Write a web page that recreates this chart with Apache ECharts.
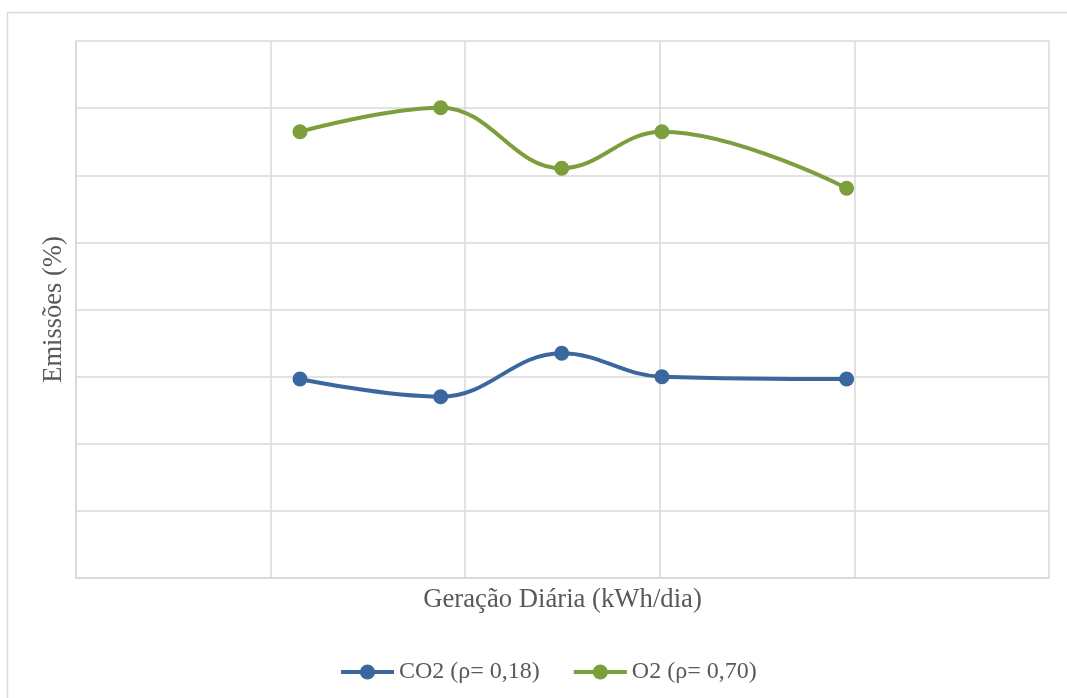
<!DOCTYPE html>
<html>
<head>
<meta charset="utf-8">
<script src="https://cdn.jsdelivr.net/npm/echarts@6/dist/echarts.min.js"></script>
<style>
html,body{margin:0;padding:0;background:#fff;}
#chart{width:1067px;height:698px;}
</style>
</head>
<body>
<div id="chart"></div>
<script>
// Data (axes have no tick labels; arbitrary units)
const xCO2 = [1.151, 1.874, 2.496, 3.011, 3.960];
const yCO2 = [2.965, 2.701, 3.348, 2.999, 2.965];
const xO2 = [1.151, 1.874, 2.496, 3.011, 3.960];
const yO2 = [6.649, 7.006, 6.104, 6.649, 5.806];
const seriesNames = ['CO2 (ρ= 0,18)', 'O2 (ρ= 0,70)'];
const xTitle = 'Geração Diária (kWh/dia)';
const yTitle = 'Emissões (%)';

const FONT = "'Liberation Serif', 'Times New Roman', serif";
const GRID = '#D9D9D9';
const TXT = '#595959';

function pairs(xs, ys) { return xs.map((x, i) => [x, ys[i]]); }

const chart = echarts.init(document.getElementById('chart'), null, {renderer: 'canvas'});
chart.setOption({
  animation: false,
  backgroundColor: '#fff',
  textStyle: {fontFamily: FONT},
  graphic: [{
    type: 'rect',
    shape: {x: 7.5, y: 12.5, width: 1100, height: 720},
    style: {fill: 'none', stroke: GRID, lineWidth: 1.5},
    silent: true
  }],
  grid: {left: 76, top: 41, right: 18, bottom: 120, containLabel: false},
  xAxis: {
    type: 'value', min: 0, max: 5, interval: 1,
    name: xTitle, nameLocation: 'middle', nameGap: 8,
    nameTextStyle: {fontFamily: FONT, fontSize: 26.7, color: TXT},
    axisLine: {show: true, lineStyle: {color: GRID, width: 1.5}},
    axisTick: {show: false}, axisLabel: {show: false},
    splitLine: {show: true, lineStyle: {color: GRID, width: 1.5}}
  },
  yAxis: {
    type: 'value', min: 0, max: 8, interval: 1,
    name: yTitle, nameLocation: 'middle', nameGap: 8,
    nameTextStyle: {fontFamily: FONT, fontSize: 26.5, color: TXT},
    axisLine: {show: true, lineStyle: {color: GRID, width: 1.5}},
    axisTick: {show: false}, axisLabel: {show: false},
    splitLine: {show: true, lineStyle: {color: GRID, width: 1.5}}
  },
  legend: {
    top: 655, left: 334,
    itemWidth: 53, itemHeight: 19, itemGap: 32,
    lineStyle: {width: 4},
    textStyle: {fontFamily: FONT, fontSize: 24, color: TXT},
    data: seriesNames
  },
  series: [
    {
      name: seriesNames[0], type: 'line', smooth: 0.4,
      data: pairs(xCO2, yCO2),
      symbol: 'circle', symbolSize: 15,
      color: '#3A679E',
      lineStyle: {width: 4, color: '#3A679E'},
      itemStyle: {color: '#3A679E'}
    },
    {
      name: seriesNames[1], type: 'line', smooth: 0.4,
      data: pairs(xO2, yO2),
      symbol: 'circle', symbolSize: 15,
      color: '#7C9E3D',
      lineStyle: {width: 4, color: '#7C9E3D'},
      itemStyle: {color: '#7C9E3D'}
    }
  ]
});
</script>
</body>
</html>
